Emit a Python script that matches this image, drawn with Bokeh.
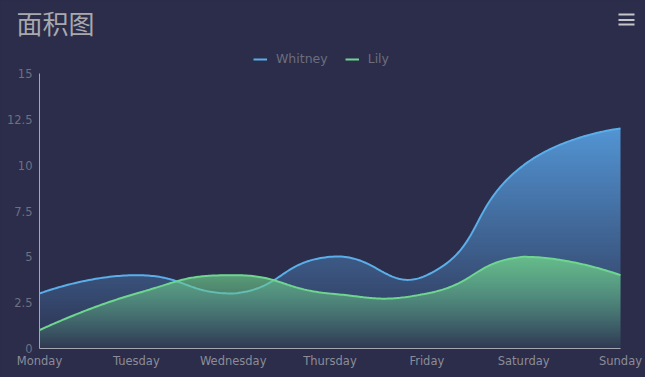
import math
import numpy as np
from bokeh.plotting import figure
from bokeh.models import FixedTicker, Label, Legend, LegendItem, Range1d, BoxAnnotation
from bokeh.embed import file_html
from bokeh.resources import INLINE

# ---- data ----
days = ["Monday", "Tuesday", "Wednesday", "Thursday", "Friday", "Saturday", "Sunday"]
whitney = [3, 4, 3, 5, 4, 10, 12]
lily = [1, 3, 4, 3, 3, 5, 4]
y_ticks = [0.0, 2.5, 5.0, 7.5, 10.0, 12.5, 15.0]
y_tick_labels = ["0", "2.5", "5", "7.5", "10", "12.5", "15"]
title_text = "面积图"
series_names = ["Whitney", "Lily"]

# ---- layout (plot area inside the page, in pixels) ----
W, H = 645, 377
GL, GR, GT, GB = 39, 25, 73, 29          # grid margins: left, right, top, bottom
GW = W - GL - GR
GH = H - GT - GB
Y_MAX = 15
N = len(days)
SX = GW / (N - 1)
SY = GH / Y_MAX

BG = "#2b2d4a"
BLUE_LINE = "#5aaeea"
GREEN_LINE = "#6fd690"
BLUE_FILL = (86, 158, 224)
GREEN_FILL = (107, 201, 138)


def smooth_curve(xs, ys, smooth=0.5, n=60):
    """Smoothed polyline (bezier through the points, handles constrained to the points'
    bounding box), computed in pixel space and returned in data units."""
    P = np.array([[x * SX, y * SY] for x, y in zip(xs, ys)], dtype=float)
    lo = P.min(axis=0)
    hi = P.max(axis=0)
    M = len(P)
    out = [P[0]]
    cp0 = P[0].copy()
    t = np.linspace(0, 1, n)[1:, None]
    for i in range(1, M):
        p = P[i]
        prev = P[i - 1]
        r = 0.5
        if i == M - 1:
            cp1 = p.copy()
            v = np.zeros(2)
        else:
            nxt = P[i + 1]
            v = nxt - prev
            lp = np.linalg.norm(p - prev)
            ln = np.linalg.norm(nxt - p)
            r = ln / (ln + lp)
            cp1 = p - v * smooth * (1 - r)
        cp0 = np.minimum(np.maximum(cp0, lo), hi)
        cp1 = np.minimum(np.maximum(cp1, lo), hi)
        seg = ((1 - t) ** 3) * prev + 3 * ((1 - t) ** 2) * t * cp0 + 3 * (1 - t) * t * t * cp1 + t ** 3 * p
        out.extend(seg)
        cp0 = p + v * smooth * r
    out = np.array(out)
    return out[:, 0] / SX, out[:, 1] / SY


def gradient_image(xs, ys, rgb, a_top, a_bot):
    """Raster of the area under a curve with a vertical alpha gradient (one texel per pixel)."""
    top = float(np.max(ys))
    rows = int(math.ceil(top * SY))
    cols = int(round(GW))
    xc = (np.arange(cols) + 0.5) / SX
    order = np.argsort(xs, kind="stable")
    curve_px = np.interp(xc, np.asarray(xs)[order], np.asarray(ys)[order]) * SY
    ri = np.arange(rows)[:, None]
    cover = np.clip(curve_px[None, :] - ri, 0.0, 1.0)
    frac = np.clip((ri + 0.5) / (top * SY), 0, 1)
    alpha = (a_bot + (a_top - a_bot) * frac) * cover
    img = np.zeros((rows, cols), dtype=np.uint32)
    view = img.view(dtype=np.uint8).reshape((rows, cols, 4))
    view[:, :, 0] = rgb[0]
    view[:, :, 1] = rgb[1]
    view[:, :, 2] = rgb[2]
    view[:, :, 3] = np.round(alpha * 255).astype(np.uint8)
    return img, cols / SX, rows / SY


# the frame covers the whole page; axes are pinned at data 0 so they take no border space
p = figure(width=W, height=H, output_backend="svg", toolbar_location=None,
           x_range=Range1d(-GL / SX, (N - 1) + GR / SX),
           y_range=Range1d(-GB / SY, Y_MAX + GT / SY),
           min_border_left=0, min_border_right=0, min_border_top=0, min_border_bottom=0)
p.background_fill_color = BG
p.border_fill_color = BG
p.outline_line_color = None
p.styles = {"background-color": BG}
p.xgrid.visible = False
p.ygrid.visible = False

xi = list(range(N))
wx, wy = smooth_curve(xi, whitney)
lx, ly = smooth_curve(xi, lily)

w_img, w_dw, w_dh = gradient_image(wx, wy, BLUE_FILL, 0.92, 0.04)
l_img, l_dw, l_dh = gradient_image(lx, ly, GREEN_FILL, 0.88, 0.05)

p.image_rgba(image=[w_img], x=0, y=0, dw=w_dw, dh=w_dh, level="glyph")
r_w = p.line(wx, wy, line_color=BLUE_LINE, line_width=2)
p.image_rgba(image=[l_img], x=0, y=0, dw=l_dw, dh=l_dh, level="glyph")
r_l = p.line(lx, ly, line_color=GREEN_LINE, line_width=2)

# axes
for ax in (p.xaxis, p.yaxis):
    ax.fixed_location = 0
    ax.axis_line_color = "#a6a6b2"
    ax.axis_line_width = 1
    ax.major_tick_line_color = None
    ax.minor_tick_line_color = None
    ax.major_tick_out = 0
    ax.major_tick_in = 0
    ax.minor_tick_out = 0
    ax.minor_tick_in = 0
    ax.major_label_text_font = "DejaVu Sans"
    ax.major_label_text_font_size = "11.5px"

p.xaxis.bounds = (0, N - 1)
p.xaxis.ticker = FixedTicker(ticks=xi)
p.xaxis.major_label_overrides = {i: d for i, d in zip(xi, days)}
p.xaxis.major_label_text_color = "#8c8c98"
p.xaxis.major_label_standoff = 5

p.yaxis.bounds = (0, Y_MAX)
p.yaxis.ticker = FixedTicker(ticks=y_ticks)
p.yaxis.major_label_overrides = {t: s for t, s in zip(y_ticks, y_tick_labels)}
p.yaxis.major_label_text_color = "#6e7082"
p.yaxis.major_label_standoff = 7

# legend
legend = Legend(items=[LegendItem(label=series_names[0], renderers=[r_w]),
                       LegendItem(label=series_names[1], renderers=[r_l])],
                orientation="horizontal", location=(253, H - 66),
                glyph_width=14, glyph_height=14, label_height=14,
                label_standoff=9, spacing=17, padding=0, margin=0,
                label_text_font="DejaVu Sans", label_text_font_size="12.5px",
                label_text_color="#6c6e7e",
                border_line_color=None, background_fill_alpha=0)
p.add_layout(legend)

# title
p.add_layout(Label(x=16, y=H - 3, x_units="screen", y_units="screen",
                   text=title_text, text_font="Noto Sans CJK SC", text_font_size="26px",
                   text_color="#a9a9ad", text_baseline="top", text_align="left"))

# menu icon: three short bars
for top_px in (13, 18.5, 23):
    p.add_layout(BoxAnnotation(left=618, right=634, top=H - top_px, bottom=H - top_px - 2,
                               left_units="screen", right_units="screen",
                               top_units="screen", bottom_units="screen",
                               fill_color="#c6c6ca", fill_alpha=1.0, line_color=None))

open("out.html", "w").write(file_html(p, INLINE))
